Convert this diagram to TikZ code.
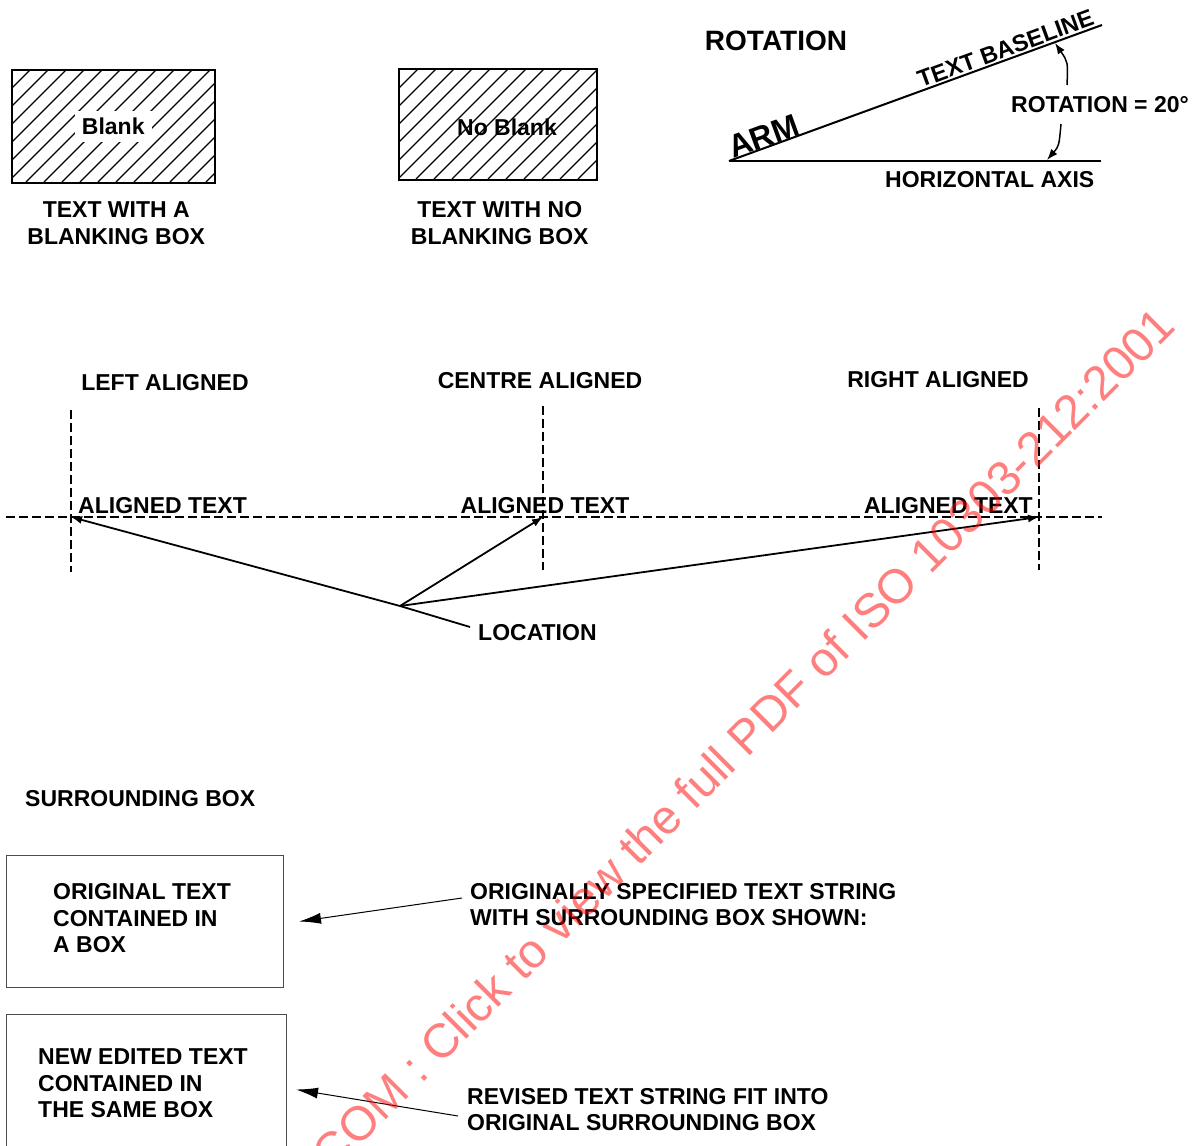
\documentclass[tikz,border=0pt]{standalone}
\usepackage{fontspec}
\setmainfont{Liberation Sans}
\usetikzlibrary{arrows.meta,positioning}

\begin{document}
\begin{tikzpicture}[x=1pt,y=-1pt,
  lbl/.style={font=\fontsize{23}{26.5}\selectfont\bfseries,inner sep=0pt},
  head/.style={font=\fontsize{28}{32}\selectfont\bfseries,inner sep=0pt},
  hatchbox/.style={draw,line width=1.5pt,anchor=north west,inner sep=0pt},
  hatch/.style={line width=1.2pt},
  frame/.style={draw=black!70,line width=1pt,anchor=north west,inner sep=0pt},
  guide/.style={line width=2.8pt,dash pattern=on 9pt off 4pt},
  arr/.style={-{Latex[length=11pt,width=8pt]},line width=1.8pt},
  lead/.style={-{Latex[length=22pt,width=11pt]},line width=1pt}]
  \useasboundingbox (0,0) rectangle (1200,1146);

  % blanking boxes
  \node[hatchbox,minimum width=203pt,minimum height=113pt] (hatchA) at (11,69) {};
  \begin{scope}
    \clip (hatchA.south west) rectangle (hatchA.north east);
    \foreach \x in {-100,-82,...,214}
      \draw[hatch] (\x,182) -- ++(113,-113);
  \end{scope}
  \node[lbl,fill=white,inner sep=7pt] (blank) at (hatchA.center) {Blank};
  \node[lbl,align=center,below=18pt of hatchA,xshift=3pt] (capA) {TEXT WITH A\\BLANKING BOX};

  \node[hatchbox,minimum width=198pt,minimum height=111pt] (hatchB) at (398,68) {};
  \begin{scope}
    \clip (hatchB.south west) rectangle (hatchB.north east);
    \foreach \x in {290,308,...,596}
      \draw[hatch] (\x,179) -- ++(111,-111);
  \end{scope}
  \node[lbl] (noblank) at (507,127) {No Blank};
  \node[lbl,align=center,below=21pt of hatchB,xshift=2pt] (capB) {TEXT WITH NO\\BLANKING BOX};

  % rotation
  \node[head] (rothead) at (776,41) {ROTATION};
  \coordinate (o) at (729,161);
  \coordinate (axisend) at (1101,161);
  \coordinate (armend) at (1102,25);
  \draw[line width=2pt] (o) -- (axisend);
  \draw[line width=2pt] (o) -- (armend);
  \node[font=\fontsize{32}{36}\selectfont\bfseries,inner sep=0pt,rotate=20,anchor=base west] (arm) at (733,159) {ARM};
  \node[lbl,font=\fontsize{23.5}{26.5}\selectfont\bfseries,rotate=20,anchor=base west] (baseline) at (921,88) {TEXT BASELINE};
  \node[lbl,anchor=base west] (axis) at (885,187) {HORIZONTAL AXIS};
  \node[lbl] (rot) at (1100,105) {ROTATION = 20\textdegree};
  \coordinate (tailA) at (1067,85);
  \coordinate (tipA) at (1055,43);
  \coordinate (tailB) at (1061,124);
  \coordinate (tipB) at (1047,160);
  \draw[arr,line width=1.5pt] (tailA) .. controls (1068,62) .. (tipA);
  \draw[arr,line width=1.5pt] (tailB) .. controls (1059,146) .. (tipB);

  % alignment
  \node[lbl] (leftal) at (165,383) {LEFT ALIGNED};
  \node[lbl] (cental) at (540,381) {CENTRE ALIGNED};
  \node[lbl] (rightal) at (938,380) {RIGHT ALIGNED};
  \draw[guide] (6,517) -- (1102,517);
  \draw[guide] (71,410) -- (71,572);
  \draw[guide] (543,406) -- (543,570);
  \draw[guide] (1039,408) -- (1039,570);
  \node[lbl,anchor=base west] (txtL) at (78,513) {ALIGNED TEXT};
  \node[lbl,anchor=base] (txtC) at (545,513) {ALIGNED TEXT};
  \node[lbl,anchor=base east] (txtR) at (1033,513) {ALIGNED TEXT};
  \coordinate (loc) at (400,606);
  \coordinate (ptL) at (71,517);
  \coordinate (ptC) at (543,517);
  \coordinate (ptR) at (1039,517);
  \node[lbl,anchor=west] (location) at (478,633) {LOCATION};
  \draw[line width=1.8pt] (loc) -- (470,627);
  \draw[arr] (loc) -- (ptL);
  \draw[arr] (loc) -- (ptC);
  \draw[arr] (loc) -- (ptR);

  % surrounding box
  \node[lbl,anchor=west] (surr) at (25,799) {SURROUNDING BOX};
  \node[frame,minimum width=277pt,minimum height=132pt] (boxA) at (6,855) {};
  \node[lbl,align=left,anchor=west] (origtxt) at (53,918.5) {ORIGINAL TEXT\\CONTAINED IN\\A BOX};
  \node[frame,minimum width=280pt,minimum height=150pt] (boxB) at (6,1014) {};
  \node[lbl,align=left,anchor=west] (newtxt) at (38,1083.5) {NEW EDITED TEXT\\CONTAINED IN\\THE SAME BOX};
  \node[lbl,align=left,anchor=west] (origlbl) at (470,904.5) {ORIGINALLY SPECIFIED TEXT STRING\\WITH SURROUNDING BOX SHOWN:};
  \node[lbl,align=left,anchor=west] (revlbl) at (467,1109.5) {REVISED TEXT STRING FIT INTO\\ORIGINAL SURROUNDING BOX};
  \draw[lead] ([xshift=-8pt,yshift=6.5pt]origlbl.west) -- ([xshift=15pt]boxA.east);
  \draw[lead] ([xshift=-9pt,yshift=-6.5pt]revlbl.west) -- ([xshift=9pt]boxB.east);

  % watermark
  \node[font=\fontsize{48}{50}\selectfont,text=red,text opacity=0.5,rotate=45,anchor=base east,inner sep=0pt] (mark) at (1178,328) {COM : Click to view the full PDF of ISO 10303-212:2001};
\end{tikzpicture}
\end{document}
